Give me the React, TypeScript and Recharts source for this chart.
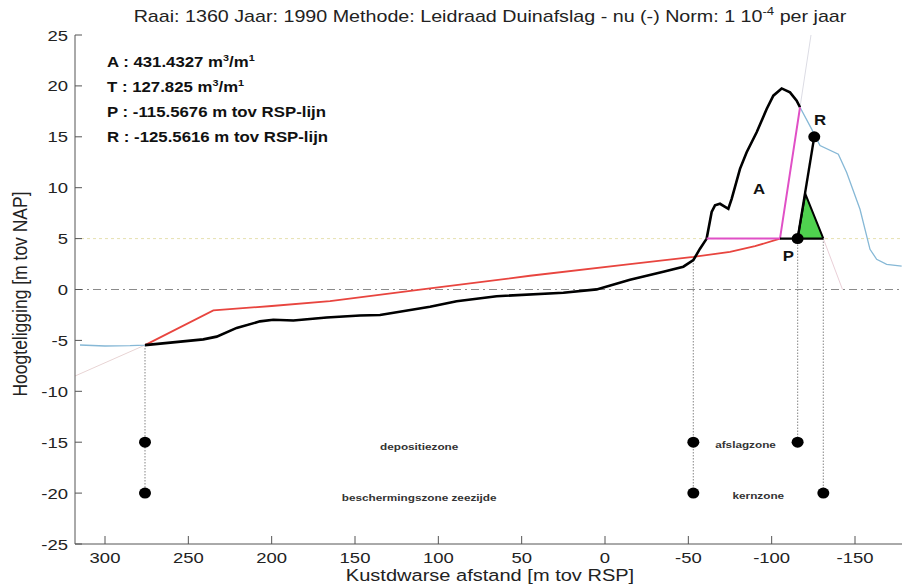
import React from 'react';
import {
  ComposedChart,
  Line,
  Area,
  Scatter,
  XAxis,
  YAxis,
  ReferenceLine,
} from 'recharts';

const xTicks = [300, 250, 200, 150, 100, 50, 0, -50, -100, -150];
const yTicks = [-25, -20, -15, -10, -5, 0, 5, 10, 15, 20, 25];
const xDomain = [-178.2, 318];
const yDomain = [-25, 25];

const napLevel = 0;
const surgeLevel = 5;
const seaBound = 276;
const landBound = -117;

// measured profile (distance, height)
const profile = [
  { x: 315, y: -5.45 }, { x: 300, y: -5.55 }, { x: 285, y: -5.52 }, { x: 276, y: -5.46 },
  { x: 241, y: -4.9 }, { x: 233, y: -4.63 }, { x: 221, y: -3.77 }, { x: 207, y: -3.13 },
  { x: 199, y: -2.97 }, { x: 187, y: -3.04 }, { x: 167, y: -2.75 }, { x: 147, y: -2.55 },
  { x: 135, y: -2.5 }, { x: 105, y: -1.7 }, { x: 89, y: -1.15 }, { x: 65, y: -0.66 },
  { x: 25, y: -0.32 }, { x: 5, y: 0.01 }, { x: -15, y: 0.95 }, { x: -35, y: 1.74 },
  { x: -47, y: 2.24 }, { x: -53, y: 2.88 }, { x: -57, y: 4.01 }, { x: -61, y: 5.0 },
  { x: -64, y: 7.62 }, { x: -66, y: 8.27 }, { x: -69, y: 8.42 }, { x: -74, y: 7.93 },
  { x: -76, y: 8.91 }, { x: -81, y: 11.85 }, { x: -85, y: 13.49 }, { x: -91, y: 15.45 },
  { x: -97, y: 17.73 }, { x: -101, y: 19.04 }, { x: -106, y: 19.75 }, { x: -111, y: 19.36 },
  { x: -115, y: 18.55 }, { x: -117, y: 17.9 }, { x: -124, y: 15.75 }, { x: -129, y: 14.14 },
  { x: -140, y: 13.29 }, { x: -145, y: 11.49 }, { x: -153, y: 7.88 }, { x: -159, y: 3.95 },
  { x: -163, y: 2.97 }, { x: -169, y: 2.47 }, { x: -178, y: 2.3 },
];

// erosion profile (red)
const erosionProfile = [
  { x: 276, y: -5.46 }, { x: 235, y: -2.05 }, { x: 200, y: -1.62 }, { x: 165, y: -1.15 },
  { x: 105, y: 0.1 }, { x: 45, y: 1.35 }, { x: -15, y: 2.5 }, { x: -53, y: 3.2 },
  { x: -75, y: 3.7 }, { x: -90, y: 4.25 }, { x: -105, y: 5.0 },
];

const volumeA = [{ x: -61, y: 5 }, { x: -105, y: 5 }, { x: -117, y: 17.9 }];
const baseLine = [{ x: -105, y: 5 }, { x: -131, y: 5 }];
const retreatLine = [{ x: -115.5676, y: 5 }, { x: -125.5616, y: 15 }];
const triangle = [{ x: -115.5676, y: 5 }, { x: -120.2, y: 9.4 }, { x: -131, y: 5 }];
const markers = [{ x: -115.5676, y: 5 }, { x: -125.5616, y: 15 }];

const zoneBounds = [
  { x: 276, top: -5.46, bottom: -20 },
  { x: -53, top: 3.2, bottom: -20 },
  { x: -115.5676, top: 5, bottom: -15 },
  { x: -131, top: 5, bottom: -20 },
];
const zoneDots = [
  { x: 276, y: -15 }, { x: 276, y: -20 }, { x: -53, y: -15 }, { x: -53, y: -20 },
  { x: -115.5676, y: -15 }, { x: -131, y: -20 },
];
const zoneLabels = [
  { x: 111.5, y: -15.4, text: 'depositiezone' },
  { x: 111.5, y: -20.4, text: 'beschermingszone zeezijde' },
  { x: -84.3, y: -15.2, text: 'afslagzone' },
  { x: -92, y: -20.2, text: 'kernzone' },
];
const pointLabels = [
  { x: -92.4, y: 9.9, text: 'A' },
  { x: -110, y: 3.3, text: 'P' },
  { x: -129, y: 16.7, text: 'R' },
];

const extensions = [
  { color: '#e8d4d4', pts: [{ x: 276, y: -5.46 }, { x: 318, y: -8.5 }] },
  { color: '#dcdce4', pts: [{ x: -117, y: 17.9 }, { x: -123.6, y: 25 }] },
  { color: '#ead0d8', pts: [{ x: -131, y: 5 }, { x: -142.5, y: 0 }] },
];

const titleParts = ['Raai: 1360 Jaar: 1990 Methode: Leidraad Duinafslag - nu (-) Norm: 1 10', '-4', ' per jaar'];
const infoLines = [
  ['A : 431.4327 m', '3', '/m', '1'],
  ['T : 127.825 m', '3', '/m', '1'],
  ['P : -115.5676 m tov RSP-lijn'],
  ['R : -125.5616 m tov RSP-lijn'],
];
const xLabel = 'Kustdwarse afstand [m tov RSP]';
const yLabel = 'Hoogteligging [m tov NAP]';

const SX = 1.2;
const FONT = '"Liberation Sans", Arial, Helvetica, sans-serif';
const AXIS = '#555';

function BottomTick({ x, y, payload }: any) {
  return (
    <g>
      <line x1={x} x2={x} y1={y} y2={y - 8} stroke={AXIS} />
      <text transform={`translate(${x} ${y + 18.5}) scale(${SX} 1)`} textAnchor="middle" fontSize={15.4} fontFamily={FONT} fill="#222">
        {payload.value}
      </text>
    </g>
  );
}
function TopTick({ x, y }: any) {
  return <line x1={x} x2={x} y1={y} y2={y + 8} stroke={AXIS} />;
}
function LeftTick({ x, y, payload }: any) {
  return (
    <g>
      <line x1={x} x2={x + 7} y1={y} y2={y} stroke={AXIS} />
      <text transform={`translate(${x - 7} ${y + 5.5}) scale(${SX} 1)`} textAnchor="end" fontSize={15.4} fontFamily={FONT} fill="#222">
        {payload.value}
      </text>
    </g>
  );
}
function RightTick({ x, y }: any) {
  return <line x1={x} x2={x - 7} y1={y} y2={y} stroke={AXIS} />;
}

const Dot = (p: any) => <ellipse cx={p.cx} cy={p.cy} rx={6} ry={5.5} fill="#000" />;
const ZoneText = (p: any) => (
  <text transform={`translate(${p.cx} ${p.cy}) scale(${SX} 1)`} dy="0.35em" textAnchor="middle" fontSize={9.8} fontWeight={700} fontFamily={FONT} fill="#333">
    {p.payload.text}
  </text>
);
const PointText = (p: any) => (
  <text transform={`translate(${p.cx} ${p.cy}) scale(${SX} 1)`} dy="0.36em" textAnchor="middle" fontSize={14} fontWeight={700} fontFamily={FONT} fill="#111">
    {p.payload.text}
  </text>
);

const series = { xAxisId: 'b', yAxisId: 'l', isAnimationActive: false, dot: false, activeDot: false, dataKey: 'y' } as const;

export default function App() {
  const coreProfile = profile.filter((p) => p.x <= seaBound && p.x >= landBound);
  return (
    <div style={{ position: 'relative', width: 903, height: 585, background: '#fff' }}>
      <style>{'body{margin:0}'}</style>
      <ComposedChart width={903} height={585} margin={{ top: 35, right: 1, bottom: 0, left: 0 }}>
        <XAxis xAxisId="b" type="number" dataKey="x" domain={xDomain} reversed allowDataOverflow ticks={xTicks} interval={0}
          orientation="bottom" height={41} tickSize={0} tickMargin={0} tickLine={false} axisLine={{ stroke: AXIS }} tick={BottomTick} />
        <XAxis xAxisId="t" type="number" dataKey="x" domain={xDomain} reversed allowDataOverflow ticks={xTicks} interval={0}
          orientation="top" height={0} tickSize={0} tickMargin={0} tickLine={false} axisLine={{ stroke: AXIS }} tick={TopTick} />
        <YAxis yAxisId="l" type="number" domain={yDomain} allowDataOverflow ticks={yTicks} interval={0}
          orientation="left" width={75} tickSize={0} tickMargin={0} tickLine={false} axisLine={{ stroke: AXIS }} tick={LeftTick} />
        <YAxis yAxisId="r" type="number" domain={yDomain} allowDataOverflow ticks={yTicks} interval={0}
          orientation="right" width={0} tickSize={0} tickMargin={0} tickLine={false} axisLine={{ stroke: AXIS }} tick={RightTick} />

        <ReferenceLine xAxisId="b" yAxisId="l" y={surgeLevel} stroke="#e6e0b0" strokeDasharray="3 3" />
        <ReferenceLine xAxisId="b" yAxisId="l" y={napLevel} stroke="#8a8a8a" strokeDasharray="8 4 2 4" />

        {extensions.map((e, i) => (
          <Line key={'ext' + i} {...series} data={e.pts} stroke={e.color} strokeWidth={1} />
        ))}
        {zoneBounds.map((b, i) => (
          <Line key={'zb' + i} {...series} data={[{ x: b.x, y: b.top }, { x: b.x, y: b.bottom }]}
            stroke="#9a9a9a" strokeWidth={1.2} strokeDasharray="1.5 1.5" />
        ))}

        <Line {...series} data={profile} stroke="#86b8d6" strokeWidth={1.3} />
        <Line {...series} data={erosionProfile} stroke="#e8453f" strokeWidth={1.8} />
        <Area xAxisId="b" yAxisId="l" isAnimationActive={false} dot={false} activeDot={false} dataKey="y" data={triangle}
          type="linear" baseValue={surgeLevel} fill="#4fd24f" fillOpacity={1} stroke="#000" strokeWidth={2} />
        <Line {...series} data={coreProfile} stroke="#000" strokeWidth={2.6} />
        <Line {...series} data={volumeA} stroke="#e050c6" strokeWidth={2} />
        <Line {...series} data={baseLine} stroke="#000" strokeWidth={2.2} />
        <Line {...series} data={retreatLine} stroke="#000" strokeWidth={2.4} />

        <Scatter xAxisId="b" yAxisId="l" isAnimationActive={false} data={markers} dataKey="y" shape={Dot} />
        <Scatter xAxisId="b" yAxisId="l" isAnimationActive={false} data={zoneDots} dataKey="y" shape={Dot} />
        <Scatter xAxisId="b" yAxisId="l" isAnimationActive={false} data={zoneLabels} dataKey="y" shape={ZoneText} />
        <Scatter xAxisId="b" yAxisId="l" isAnimationActive={false} data={pointLabels} dataKey="y" shape={PointText} />
      </ComposedChart>

      <svg width={903} height={585} style={{ position: 'absolute', left: 0, top: 0, pointerEvents: 'none' }} fontFamily={FONT}>
        <text transform={`translate(490 22) scale(${SX} 1)`} textAnchor="middle" fontSize={16.4} fill="#222">
          {titleParts[0]}
          <tspan dy={-7} fontSize={11}>{titleParts[1]}</tspan>
          <tspan dy={7}>{titleParts[2]}</tspan>
        </text>
        {infoLines.map((parts, i) => (
          <text key={i} transform={`translate(107 ${67 + i * 25}) scale(${SX} 1)`} fontSize={14} fontWeight={700} fill="#111">
            {parts.map((s, j) =>
              j % 2 === 1 ? (
                <tspan key={j} dy={-6} fontSize={9}>{s}</tspan>
              ) : (
                <tspan key={j} dy={j === 0 ? 0 : 6}>{s}</tspan>
              )
            )}
          </text>
        ))}
        <text transform={`translate(490 581) scale(${SX} 1)`} textAnchor="middle" fontSize={16.7} fill="#222">{xLabel}</text>
        <text transform={`translate(27 294) scale(${SX} 1) rotate(-90)`} textAnchor="middle" fontSize={17.5} fill="#222">{yLabel}</text>
      </svg>
    </div>
  );
}
